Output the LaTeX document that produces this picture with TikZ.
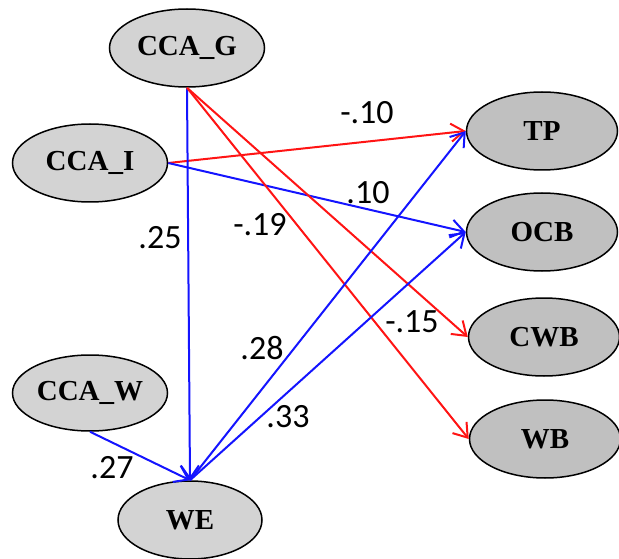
\documentclass[tikz,border=0pt]{standalone}
\usepackage{fontspec}
\setmainfont{Liberation Serif}
\newfontfamily\labelfont{Carlito}
\usetikzlibrary{shapes.geometric,arrows.meta}
\definecolor{lgray}{HTML}{D3D3D3}
\definecolor{mgray}{HTML}{C0C0C0}
\definecolor{pathred}{RGB}{255,20,20}
\definecolor{pathblue}{RGB}{20,20,255}
\tikzset{
  latent/.style={ellipse,draw=black,line width=1.5pt,inner sep=0pt,
    font=\fontsize{29}{32}\selectfont\bfseries},
  leftvar/.style={latent,fill=lgray,minimum width=155pt,minimum height=78pt},
  rightvar/.style={latent,fill=mgray,minimum width=151pt,minimum height=78pt},
  pospath/.style={draw=pathblue,line width=2pt,-{Straight Barb[length=13pt,width=18pt,line width=2pt]}},
  negpath/.style={draw=pathred,line width=2pt,-{Straight Barb[length=13pt,width=18pt,line width=2pt]}},
  coef/.style={font=\labelfont\fontsize{34}{38}\selectfont,inner sep=0pt}
}
\begin{document}
\begin{tikzpicture}[x=1pt,y=-1pt]
\useasboundingbox (0,0) rectangle (619,559);
\node[leftvar] (G) at (187,48) {CCA\_G};
\node[leftvar] (I) at (90,163) {CCA\_I};
\node[leftvar,minimum height=76pt] (W) at (90,393) {CCA\_W};
\node[leftvar,minimum width=144pt] (WE) at (190,520) {WE};
\node[rightvar] (TP) at (542,131) {TP};
\node[rightvar] (OCB) at (542,232) {OCB};
\node[rightvar] (CWB) at (544,337) {CWB};
\node[rightvar] (WB) at (545,439) {WB};

\draw[negpath] (I.east) -- (TP.west);
\draw[pospath] (I.east) -- (OCB.west);
\draw[pospath] (G.south) -- (WE.north);
\draw[negpath] (G.south) -- (CWB.west);
\draw[negpath] (G.south) -- (WB.west);
\draw[pospath] (W.south) -- (WE.north);
\draw[pospath] (WE.north) -- (TP.west);
\draw[pospath] (WE.north) -- (OCB.west);

\node[coef] (l1) at (367,113) {-.10};
\node[coef] (l2) at (368,193) {.10};
\node[coef] (l3) at (160,238) {.25};
\node[coef] (l4) at (260,225) {-.19};
\node[coef] (l5) at (262,348) {.28};
\node[coef] (l6) at (288,417) {.33};
\node[coef] (l7) at (412,322) {-.15};
\node[coef] (l8) at (112,468) {.27};
\end{tikzpicture}
\end{document}
